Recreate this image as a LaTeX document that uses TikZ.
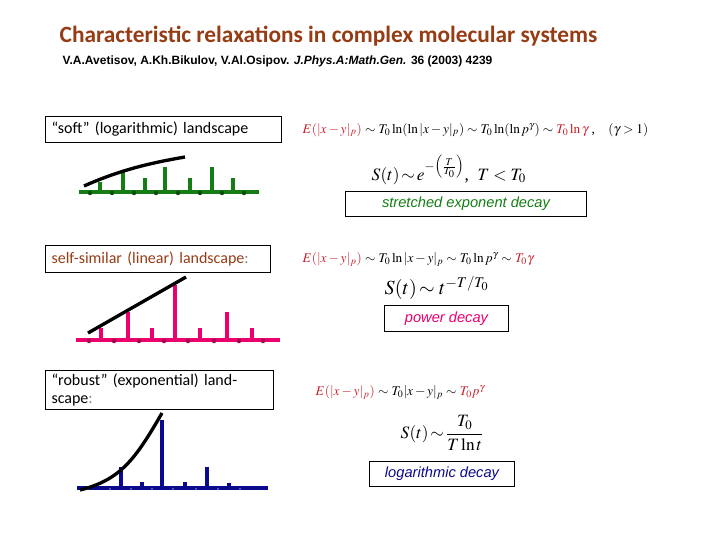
\documentclass[tikz,border=0pt]{standalone}
\usepackage{amsmath}
\usepackage{mathptmx}
\usepackage{fontspec}
\setmainfont{Liberation Serif}
\newfontfamily\calfnt{Carlito}
\newfontfamily\ari{Liberation Sans}
\begin{document}
\begin{tikzpicture}[x=0.75pt,y=-0.75pt,
  lbl/.style={draw,thick,inner sep=3pt,anchor=west,font=\calfnt\fontsize{12}{13}\selectfont},
  dec/.style={draw,thick,minimum height=19pt,font=\ari\itshape\fontsize{11}{12}\selectfont},
  eq/.style={anchor=west,font=\fontsize{10}{12}\selectfont}]
\useasboundingbox (0,0) rectangle (720,540);
\definecolor{brn}{RGB}{150,60,20}
\definecolor{grn}{RGB}{20,125,20}
\definecolor{pnk}{RGB}{235,0,110}
\definecolor{blu}{RGB}{10,10,140}
\definecolor{rd}{RGB}{200,30,40}
\node[anchor=west,text=brn,font=\calfnt\bfseries\fontsize{17.5}{20}\selectfont] (t) at (55,36) {Characteristic relaxations in complex molecular systems};
\node[anchor=west,font=\ari\bfseries\fontsize{9}{10}\selectfont] (s) at (58,61) {V.A.Avetisov, A.Kh.Bikulov, V.Al.Osipov. \textit{J.Phys.A:Math.Gen.} 36 (2003) 4239};
% labels
\node[lbl,minimum width=177pt,minimum height=20pt,text width=168pt] (l1) at (45,129.5) {“soft” (logarithmic) landscape};
\node[lbl,minimum width=169pt,minimum height=20pt,text width=160pt] (l2) at (45,259) {\textcolor{brn}{self-similar (linear) landscape}\textcolor{gray}{:}};
\node[lbl,minimum width=171pt,minimum height=20pt,text width=162pt] (l3) at (45,390) {“robust” (exponential) landscape\textcolor{gray}{:}};
% equations
\node[eq] (e1) at (298,130) {$\color{rd}E(|x-y|_p)$ $\sim T_0\ln(\ln|x-y|_p)\sim T_0\ln(\ln p^\gamma)\sim$ $\color{rd}T_0\ln\gamma$ ,\quad $(\gamma>1)$};
\node[eq,font=\fontsize{13}{14}\selectfont] (f1) at (367,170) {$S(t)\!\sim\! e^{-\left(\frac{T}{T_0}\right)}$,\ \ $T<T_0$};
\node[dec,text=grn,minimum width=181pt] (d1) at (466,204) {stretched exponent decay};
\node[eq] (e2) at (298,259) {$\color{rd}E(|x-y|_p)$ $\sim T_0\ln|x-y|_p\sim T_0\ln p^\gamma\sim$ $\color{rd}T_0\gamma$};
\node[eq,font=\fontsize{15}{16}\selectfont] (f2) at (380,288) {$S(t)\!\sim t^{-T/T_0}$};
\node[dec,text=pnk,minimum width=93pt] (d2) at (446.5,318.5) {power decay};
\node[eq] (e3) at (311,392) {$\color{rd}E(|x-y|_p)$ $\sim T_0|x-y|_p\sim$ $\color{rd}T_0p^\gamma$};
\node[eq,font=\fontsize{13}{14}\selectfont] (f3) at (396,433) {$S(t)\!\sim\!\dfrac{T_0}{T\ln t}$};
\node[dec,text=blu,minimum width=109pt] (d3) at (442,474) {logarithmic decay};
% green landscape
\draw[grn,line width=3pt] (79,192) -- (259,192);
\foreach \x/\h in {100/182,123/172,145/178,165/167,190/178,212/167,233/178}
  \draw[grn,line width=3pt] (\x,192) -- (\x,\h);
\foreach \x in {90,112,134,156,178,200,222,244} \fill[grn!60!black] (\x,193) circle (2.2);
\draw[line width=2.5pt] (84,186) .. controls (120,170) and (150,163) .. (185,157);
% pink landscape
\draw[pnk,line width=3pt] (76,340) -- (280,340);
\foreach \x/\h in {101/328,128/312,152/328,175/285,200/328,227/312,252/328}
  \draw[pnk,line width=3.5pt] (\x,340) -- (\x,\h);
\foreach \x in {89,114,139,164,188,214,239,263} \fill[pnk!70!black] (\x,341) circle (2.2);
\draw[line width=2.5pt] (88,333) -- (186,277);
% blue landscape
\draw[blu,line width=3pt] (77,488) -- (268,488);
\foreach \x/\h in {121/467,142/482,162/420,185/482,207/467,229/483}
  \draw[blu,line width=3.5pt] (\x,488) -- (\x,\h);
\foreach \x in {88,110,131,152,173,196,218,240} \fill[blu!60!white] (\x,489) circle (1.2);
\draw[line width=2.5pt] (80,490) .. controls (120,480) and (135,460) .. (162,413);
\end{tikzpicture}
\end{document}
